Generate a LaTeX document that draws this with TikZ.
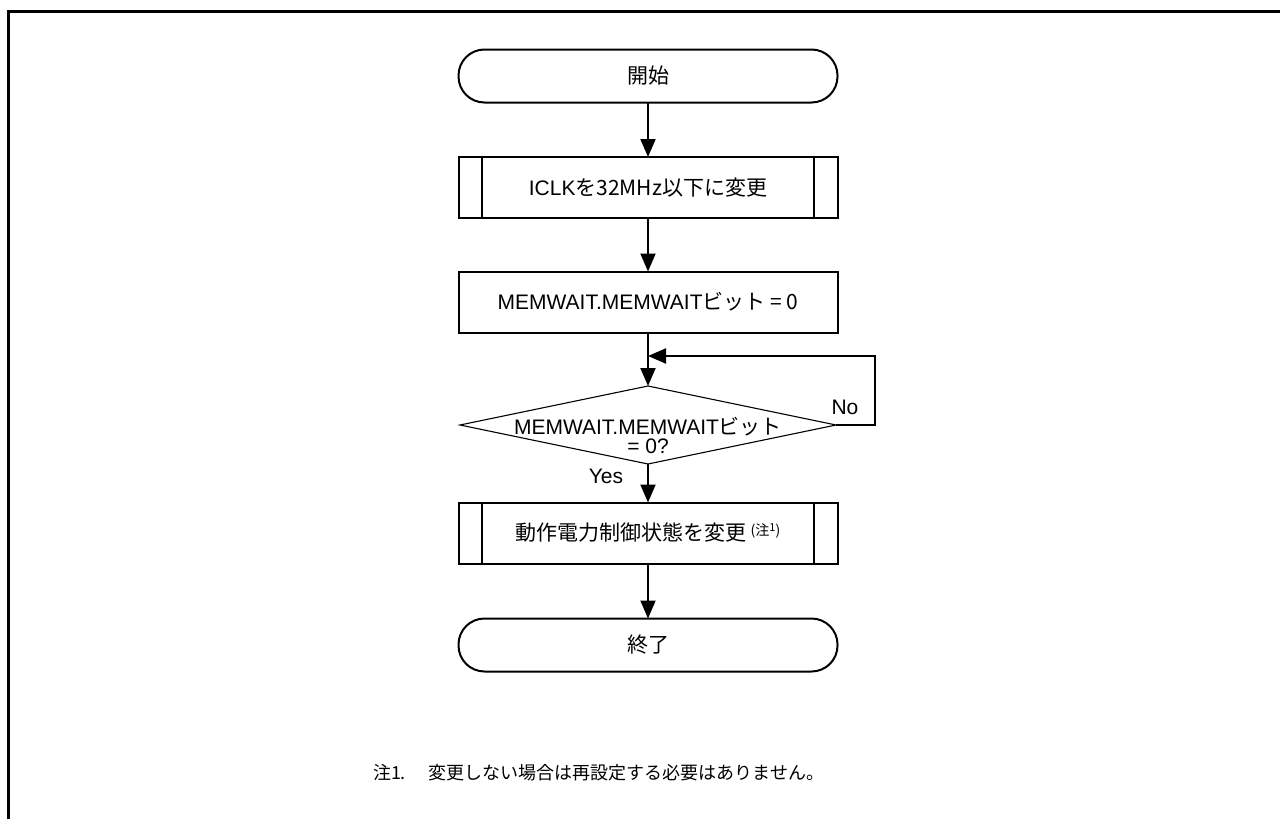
\documentclass[tikz,border=0pt]{standalone}
\usepackage{fontspec}
\setmainfont{Liberation Sans}
\newfontfamily\jp{Noto Sans CJK JP}
\usetikzlibrary{shapes.geometric,arrows.meta}
\begin{document}
\begin{tikzpicture}[x=1pt,y=-1pt,
  base/.style={font=\fontsize{21}{24}\selectfont, inner sep=0pt, outer sep=0pt},
  term/.style={base, draw, line width=2pt, rounded corners=26pt, minimum width=379pt, minimum height=53pt},
  proc/.style={base, draw, line width=2pt, minimum width=379pt, minimum height=61pt},
  subr/.style={proc},
  dec/.style={diamond, draw, line width=1.1pt, minimum width=376pt, minimum height=78pt, inner sep=0pt, outer sep=0pt},
  flow/.style={line width=2pt, -{Triangle[width=15pt,length=18pt]}},
  bar/.style={line width=2pt},
]
\useasboundingbox (0,0) rectangle (1280,819);
\draw[line width=3pt] (8.5,819) -- (8.5,11.5) -- (1280,11.5);

\node[term] (start) at (648,76) {\jp{開始}};
\node[subr] (s1) at (648,187.5) {ICLK\jp{を}32MHz\jp{以下に変更}};
\draw[bar] ([xshift=23.5pt]s1.north west) -- ([xshift=23.5pt]s1.south west);
\draw[bar] ([xshift=-23.5pt]s1.north east) -- ([xshift=-23.5pt]s1.south east);
\node[proc] (p) at (648,302) {MEMWAIT.MEMWAIT\jp{ビット} = 0};
\node[dec] (d) at (648,425) {};
\node[base, align=center, font=\fontsize{21}{19}\selectfont] (dt) at (648,435) {MEMWAIT.MEMWAIT\jp{ビット}\\= 0?};
\node[base] (no) at (845,407) {No};
\node[base] (yes) at (606,476) {Yes};
\node[subr] (s2) at (648,533) {\jp{動作電力制御状態を変更}\hspace{4pt}{\fontsize{14}{14}\selectfont\raisebox{5pt}{(\jp{注}\raisebox{4pt}{\fontsize{11}{11}\selectfont 1})}}};
\draw[bar] ([xshift=23.5pt]s2.north west) -- ([xshift=23.5pt]s2.south west);
\draw[bar] ([xshift=-23.5pt]s2.north east) -- ([xshift=-23.5pt]s2.south east);
\node[term] (end) at (648,645) {\jp{終了}};
\node[base, font=\fontsize{18}{20}\selectfont, anchor=west] (note) at (373,773) {\jp{注}1.\hspace{23pt}\jp{変更しない場合は再設定する必要はありません。}};

\coordinate (m) at (648,356);
\draw[flow] (start) -- (s1);
\draw[flow] (s1) -- (p);
\draw[flow] (p) -- (d);
\draw[flow] (d.east) -- ++(39,0) |- (m);
\draw[flow] (d) -- (s2);
\draw[flow] (s2) -- (end);
\end{tikzpicture}
\end{document}
